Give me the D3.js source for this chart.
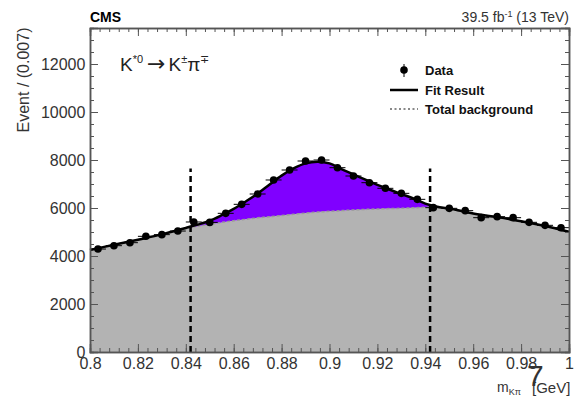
<!DOCTYPE html>
<html>
<head>
<meta charset="utf-8">
<script src="https://cdn.jsdelivr.net/npm/d3@7"></script>
<style>
  body { margin: 0; background: #fff; }
  text { font-family: "Liberation Sans", Arial, sans-serif; }
</style>
</head>
<body>
<div id="main-vis"></div>
<script>
// data
const binCenters = d3.range(30).map(i => 0.8 + (i + 0.5) * (0.2 / 30))
const dataCounts = [4290, 4430, 4555, 4820, 4890, 5040, 5417, 5400, 5778, 6153,
                    6583, 7167, 7583, 7958, 8000, 7680, 7333, 7055, 6820, 6611,
                    6361, 6014, 5986, 5889, 5597, 5639, 5597, 5403, 5278, 5180]

const fitX = [0.800, 0.810, 0.820, 0.830, 0.840, 0.845, 0.850, 0.855, 0.860, 0.865,
              0.870, 0.875, 0.880, 0.885, 0.890, 0.895, 0.900, 0.905, 0.910, 0.915,
              0.920, 0.925, 0.930, 0.935, 0.940, 0.945, 0.950, 0.960, 0.970, 0.980,
              0.990, 1.000]
const fitY = [4250, 4470, 4680, 4900, 5170, 5310, 5470, 5700, 5960, 6270,
              6600, 6980, 7350, 7650, 7860, 7930, 7860, 7620, 7400, 7180,
              6960, 6770, 6580, 6400, 6180, 6050, 5980, 5770, 5620, 5450,
              5250, 5010]
const bkgY = [4250, 4470, 4680, 4900, 5150, 5240, 5320, 5400, 5470, 5530,
              5590, 5640, 5690, 5740, 5790, 5830, 5860, 5890, 5920, 5940,
              5960, 5975, 5990, 6010, 6030, 6035, 5980, 5770, 5620, 5450,
              5250, 5010]

const windowLines = [0.842, 0.942]
const xTicks = [0.8, 0.82, 0.84, 0.86, 0.88, 0.9, 0.92, 0.94, 0.96, 0.98, 1]
const yTicks = [0, 2000, 4000, 6000, 8000, 10000, 12000]

const W = 579, H = 403
const m = {l: 90, r: 10, t: 28, b: 51}

const svg = d3.select('#main-vis').append('svg')
    .attr('width', W).attr('height', H)

const x = d3.scaleLinear().domain([0.8, 1.0]).range([m.l, W - m.r])
const y = d3.scaleLinear().domain([0, 13500]).range([H - m.b, m.t])

const pts = fitX.map((v, i) => ({x: v, fit: fitY[i], bkg: bkgY[i]}))
const curve = d3.curveCatmullRom

// background fill
svg.append('path')
    .datum(pts)
    .attr('fill', '#b3b3b3')
    .attr('d', d3.area().curve(curve)
        .x(d => x(d.x)).y0(y(0)).y1(d => y(d.bkg)))

// signal fill
svg.append('path')
    .datum(pts)
    .attr('fill', '#8000ff')
    .attr('d', d3.area().curve(curve)
        .x(d => x(d.x)).y0(d => y(d.bkg)).y1(d => y(d.fit)))

// background dashed line
svg.append('path')
    .datum(pts)
    .attr('fill', 'none')
    .attr('stroke', '#999')
    .attr('stroke-width', 1.5)
    .attr('stroke-dasharray', '3,2')
    .attr('d', d3.line().curve(curve).x(d => x(d.x)).y(d => y(d.bkg)))

// window lines
svg.selectAll('.win')
    .data(windowLines)
    .join('line')
        .attr('x1', d => x(d)).attr('x2', d => x(d))
        .attr('y1', y(0)).attr('y2', y(7650))
        .attr('stroke', '#000')
        .attr('stroke-width', 2.5)
        .attr('stroke-dasharray', '6,4')

// fit line
svg.append('path')
    .datum(pts)
    .attr('fill', 'none')
    .attr('stroke', '#000')
    .attr('stroke-width', 2.5)
    .attr('d', d3.line().curve(curve).x(d => x(d.x)).y(d => y(d.fit)))

// data points
const halfBin = 0.1 / 30
const g = svg.append('g')
g.selectAll('.hb')
    .data(dataCounts)
    .join('line')
        .attr('x1', (d, i) => x(binCenters[i] - halfBin))
        .attr('x2', (d, i) => x(binCenters[i] + halfBin))
        .attr('y1', d => y(d)).attr('y2', d => y(d))
        .attr('stroke', '#000').attr('stroke-width', 1)
g.selectAll('.vb')
    .data(dataCounts)
    .join('line')
        .attr('x1', (d, i) => x(binCenters[i]))
        .attr('x2', (d, i) => x(binCenters[i]))
        .attr('y1', d => y(d + 80)).attr('y2', d => y(d - 80))
        .attr('stroke', '#000').attr('stroke-width', 1)
g.selectAll('circle')
    .data(dataCounts)
    .join('circle')
        .attr('cx', (d, i) => x(binCenters[i]))
        .attr('cy', d => y(d))
        .attr('r', 3.8)
        .attr('fill', '#000')

// axes
const tickCol = '#555'
const xAxis = d3.axisBottom(x).tickValues(xTicks).tickSize(-8)
    .tickFormat(d => String(+d.toFixed(2)))
const xMinor = d3.axisBottom(x).tickValues(d3.range(0.8, 1.0001, 0.004)).tickSize(-4).tickFormat('')
const yAxis = d3.axisLeft(y).tickValues(yTicks).tickSize(-8).tickFormat(d3.format('d'))
const yMinor = d3.axisLeft(y).tickValues(d3.range(0, 13501, 500)).tickSize(-4).tickFormat('')

function styleAxis (sel) {
    sel.selectAll('path').attr('stroke', tickCol).attr('stroke-width', 1.5)
    sel.selectAll('line').attr('stroke', tickCol)
    sel.selectAll('text').attr('fill', '#333').style('font-size', '16px')
        .style('font-family', '"Liberation Sans", Arial, sans-serif')
}

svg.append('g').attr('transform', `translate(0,${y(0)})`).call(xMinor).call(styleAxis)
svg.append('g').attr('transform', `translate(0,${y(0)})`).call(xAxis).call(styleAxis)
    .selectAll('text').attr('dy', '0.85em')
svg.append('g').attr('transform', `translate(0,${m.t})`)
    .call(d3.axisTop(x).tickValues(xTicks).tickSize(-8).tickFormat('')).call(styleAxis)
svg.append('g').attr('transform', `translate(0,${m.t})`)
    .call(d3.axisTop(x).tickValues(d3.range(0.8, 1.0001, 0.004)).tickSize(-4).tickFormat('')).call(styleAxis)
svg.append('g').attr('transform', `translate(${m.l},0)`).call(yMinor).call(styleAxis)
svg.append('g').attr('transform', `translate(${m.l},0)`).call(yAxis).call(styleAxis)
    .selectAll('text').attr('dx', '-0.1em')
svg.append('g').attr('transform', `translate(${W - m.r},0)`)
    .call(d3.axisRight(y).tickValues(yTicks).tickSize(-8).tickFormat('')).call(styleAxis)
svg.append('g').attr('transform', `translate(${W - m.r},0)`)
    .call(d3.axisRight(y).tickValues(d3.range(0, 13501, 500)).tickSize(-4).tickFormat('')).call(styleAxis)

// texts
svg.append('text').attr('x', 90).attr('y', 22)
    .style('font-weight', 'bold').style('font-size', '14px').text('CMS')
const lumi = svg.append('text').attr('x', W - m.r).attr('y', 22)
    .attr('text-anchor', 'end').style('font-size', '14px').attr('fill', '#333')
lumi.append('tspan').text('39.5 fb')
lumi.append('tspan').attr('dy', -5).style('font-size', '9px').text('-1')
lumi.append('tspan').attr('dy', 5).text(' (13 TeV)')

const dec = svg.append('text').attr('x', 120).attr('y', 71).style('font-size', '19px').attr('fill', '#222')
dec.append('tspan').text('K')
dec.append('tspan').attr('dy', -8).style('font-size', '11px').text('*0')
dec.append('tspan').attr('dy', 8).attr('dx', 4).style('font-family', 'DejaVu Sans').style('font-size', '22px').text('\u2192')
dec.append('tspan').attr('dx', 3).text('K')
dec.append('tspan').attr('dy', -8).style('font-size', '11px').text('\u00b1')
dec.append('tspan').attr('dy', 8).text('\u03c0')
dec.append('tspan').attr('dy', -8).style('font-size', '11px').text('\u2213')

svg.append('text')
    .attr('transform', 'translate(29,80) rotate(-90)')
    .attr('text-anchor', 'middle').style('font-size', '16px').attr('fill', '#333')
    .text('Event / (0.007)')

const xl = svg.append('text').attr('x', 497).attr('y', 392).style('font-size', '14px').attr('fill', '#333')
xl.append('tspan').text('m')
xl.append('tspan').attr('dy', 3).style('font-size', '9px').text('K\u03c0')
svg.append('text').attr('x', 527).attr('y', 386).style('font-size', '30px').attr('fill', '#333').text('7')
svg.append('text').attr('x', 532).attr('y', 393).style('font-size', '15px').attr('fill', '#333').text('[GeV]')

// legend
const leg = svg.append('g')
leg.append('circle').attr('cx', 404).attr('cy', 70).attr('r', 3.8).attr('fill', '#000')
leg.append('line').attr('x1', 404).attr('x2', 404).attr('y1', 64).attr('y2', 77).attr('stroke', '#000')
leg.append('line').attr('x1', 390).attr('x2', 418).attr('y1', 90).attr('y2', 90)
    .attr('stroke', '#000').attr('stroke-width', 2.5)
leg.append('line').attr('x1', 390).attr('x2', 418).attr('y1', 109).attr('y2', 109)
    .attr('stroke', '#888').attr('stroke-width', 2).attr('stroke-dasharray', '2,2.5')
const legTxt = ['Data', 'Fit Result', 'Total background']
leg.selectAll('.lt').data(legTxt).join('text')
    .attr('x', 425).attr('y', (d, i) => 75 + i * 19.5)
    .style('font-weight', 'bold').style('font-size', '13px').attr('fill', '#111')
    .text(d => d)
</script>
</body>
</html>
